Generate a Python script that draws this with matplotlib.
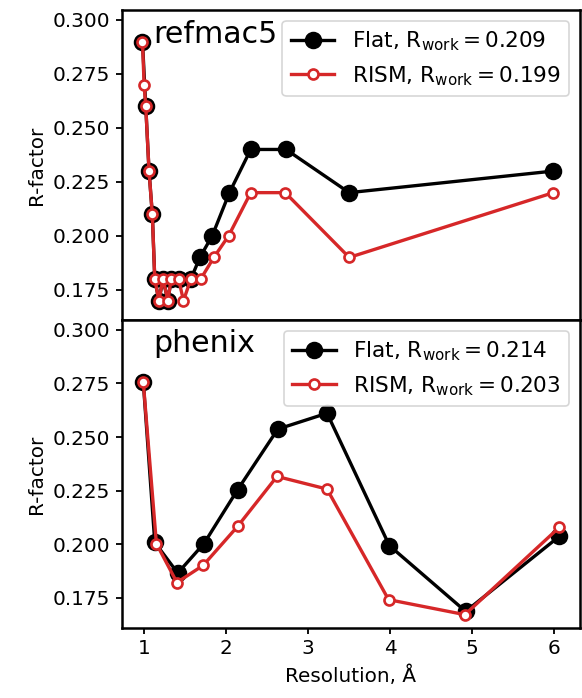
import matplotlib
matplotlib.use("Agg")
import matplotlib.pyplot as plt

# refmac5 panel
refmac_flat_x = [0.98, 1.02, 1.06, 1.10, 1.13, 1.18, 1.23, 1.29, 1.33, 1.42, 1.57, 1.68, 1.83, 2.04, 2.30, 2.73, 3.50, 5.99]
refmac_flat_y = [0.29, 0.26, 0.23, 0.21, 0.18, 0.17, 0.18, 0.17, 0.18, 0.18, 0.18, 0.19, 0.20, 0.22, 0.24, 0.24, 0.22, 0.23]
refmac_rism_x = [0.98, 1.00, 1.02, 1.06, 1.10, 1.13, 1.18, 1.23, 1.29, 1.33, 1.42, 1.48, 1.57, 1.69, 1.85, 2.03, 2.30, 2.72, 3.50, 5.99]
refmac_rism_y = [0.29, 0.27, 0.26, 0.23, 0.21, 0.18, 0.17, 0.18, 0.17, 0.18, 0.18, 0.17, 0.18, 0.18, 0.19, 0.20, 0.22, 0.22, 0.19, 0.22]

# phenix panel
phenix_flat_x = [0.99, 1.13, 1.41, 1.73, 2.14, 2.63, 3.23, 3.99, 4.92, 6.06]
phenix_flat_y = [0.2756, 0.2008, 0.1865, 0.2003, 0.2254, 0.2537, 0.2611, 0.1993, 0.1686, 0.2036]
phenix_rism_x = [0.99, 1.15, 1.40, 1.72, 2.14, 2.62, 3.23, 3.98, 4.91, 6.06]
phenix_rism_y = [0.2756, 0.2002, 0.1821, 0.1901, 0.2083, 0.2316, 0.2257, 0.1741, 0.1671, 0.2078]

panel_names = ["refmac5", "phenix"]
flat_rwork = ["0.209", "0.214"]
rism_rwork = ["0.199", "0.203"]
yticks = [0.175, 0.200, 0.225, 0.250, 0.275, 0.300]

plt.rcParams['font.family'] = ['DejaVu Sans']
plt.rcParams['font.size'] = 12
plt.rcParams['axes.linewidth'] = 1.5
plt.rcParams['xtick.major.width'] = 1.1
plt.rcParams['ytick.major.width'] = 1.1

fig = plt.figure(figsize=(582/120, 698/120), dpi=120)
ax1 = fig.add_axes([0.209, 0.5415, 0.9966 - 0.209, 0.9857 - 0.5415])
ax2 = fig.add_axes([0.209, 0.1007, 0.9966 - 0.209, 0.5415 - 0.1007], sharex=ax1)

data = [
    (ax1, refmac_flat_x, refmac_flat_y, refmac_rism_x, refmac_rism_y),
    (ax2, phenix_flat_x, phenix_flat_y, phenix_rism_x, phenix_rism_y),
]
for i, (ax, fx, fy, rx, ry) in enumerate(data):
    ax.plot(fx, fy, '-o', color='black', lw=2, ms=9.5,
            label=r'Flat, $\mathrm{R_{work}} = %s$' % flat_rwork[i])
    ax.plot(rx, ry, '-o', color='#d62728', lw=2, ms=6, mfc='white',
            mec='#d62728', mew=1.6,
            label=r'RISM, $\mathrm{R_{work}} = %s$' % rism_rwork[i])
    ax.set_ylim(0.161, 0.3046)
    ax.set_yticks(yticks)
    ax.set_ylabel('R-factor')
    ax.legend(loc='upper right', fontsize=13)
    ax.text(0.068, 0.895, panel_names[i], transform=ax.transAxes,
            fontsize=18, va='baseline', ha='left')

ax1.tick_params(axis='x', labelbottom=False)
ax2.set_xlabel('Resolution, Å')
ax2.set_xticks([1, 2, 3, 4, 5, 6])

fig.savefig('out.png', dpi=120)
